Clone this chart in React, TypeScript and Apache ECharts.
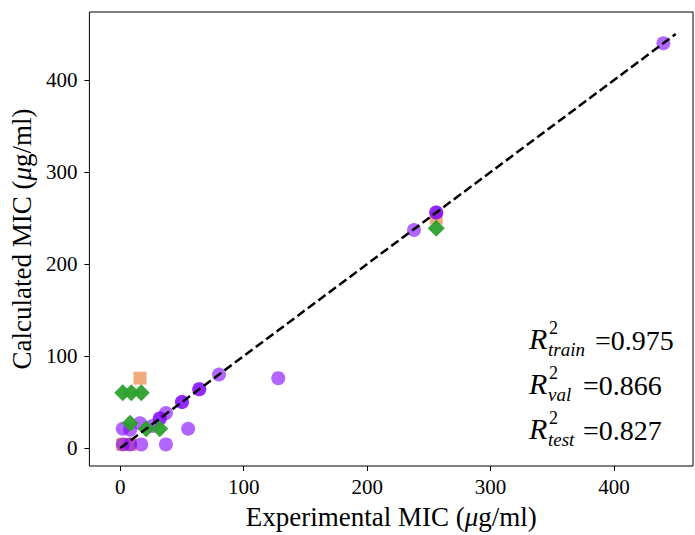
import React, { useEffect, useRef } from "react";
import * as echarts from "echarts";

// Experimental vs calculated MIC (µg/ml) for each data split
const trainPoints: number[][] = [
  [2, 4], [8, 4], [17, 4], [37, 4],
  [2, 21], [8, 20], [16, 27], [26, 24], [55, 21],
  [32, 32], [32, 32], [37, 38],
  [50, 50], [50, 50], [64, 64], [64, 64], [80, 80],
  [128, 76], [238, 237], [256, 256], [256, 256], [440, 440],
];
const valPoints: number[][] = [
  [2, 4], [8, 4], [16, 76], [256, 250],
];
const testPoints: number[][] = [
  [2, 60], [9, 60], [17, 60], [8, 27], [21, 21], [32, 21], [256, 239],
];
const identityLine: number[][] = [[0, 0], [450, 450]];
const tickValues: number[] = [0, 100, 200, 300, 400];

const r2Splits: string[] = ["train", "val", "test"];
const r2Values: string[] = ["0.975", "0.866", "0.827"];

const SERIF = '"Liberation Serif", "DejaVu Serif", serif';

function r2Block(): any[] {
  const rowY = [338, 383, 428];
  const subWidth: Record<string, number> = { train: 40, val: 28, test: 28 };
  const out: any[] = [];
  r2Splits.forEach((name, i) => {
    const y = rowY[i];
    out.push({
      type: "text",
      style: { text: "R", x: 529, y, font: `italic 30px ${SERIF}`, fill: "#000", verticalAlign: "middle" },
    });
    out.push({
      type: "text",
      style: { text: "2", x: 549, y: y - 10, font: `18px ${SERIF}`, fill: "#000", verticalAlign: "middle" },
    });
    out.push({
      type: "text",
      style: { text: name, x: 548, y: y + 11, font: `italic 19px ${SERIF}`, fill: "#000", verticalAlign: "middle" },
    });
    out.push({
      type: "text",
      style: {
        text: "=" + r2Values[i],
        x: 550 + subWidth[name] + 5,
        y: y + 2,
        font: `28px ${SERIF}`,
        fill: "#000",
        verticalAlign: "middle",
      },
    });
  });
  return out;
}

export default function App() {
  const ref = useRef<HTMLDivElement>(null);

  useEffect(() => {
    if (!ref.current) return;
    const chart = echarts.init(ref.current, undefined, { renderer: "svg" });
    const axisCommon = {
      type: "value" as const,
      splitLine: { show: false },
      axisLine: { show: false, onZero: false },
      axisTick: {
        show: true,
        customValues: tickValues,
        length: 5,
        inside: false,
        lineStyle: { color: "#000", width: 1 },
      },
      nameLocation: "middle" as const,
      nameTextStyle: {
        fontFamily: SERIF,
        fontSize: 27,
        color: "#000",
        rich: { i: { fontFamily: SERIF, fontSize: 27, fontStyle: "italic", color: "#000" } },
      },
    };
    chart.setOption({
      animation: false,
      backgroundColor: "#fff",
      grid: {
        left: 87,
        right: 2,
        top: 12,
        bottom: 66,
        show: true,
        borderColor: "#000",
        borderWidth: 1,
        backgroundColor: "transparent",
      },
      xAxis: {
        ...axisCommon,
        min: -25,
        max: 464,
        name: "Experimental MIC ({i|μ}g/ml)",
        nameGap: 37,
        axisLabel: {
          customValues: tickValues,
          fontFamily: SERIF,
          fontSize: 21,
          color: "#000",
          margin: 10,
        },
      },
      yAxis: {
        ...axisCommon,
        min: -19.5,
        max: 474,
        name: "Calculated MIC ({i|μ}g/ml)",
        nameGap: 46,
        axisLabel: {
          customValues: tickValues,
          fontFamily: SERIF,
          fontSize: 21,
          color: "#000",
          margin: 12,
        },
      },
      series: [
        {
          name: "val",
          type: "scatter",
          data: valPoints,
          symbol: "rect",
          symbolSize: 13,
          itemStyle: { color: "#f0955c", opacity: 0.8 },
          z: 2,
        },
        {
          name: "train",
          type: "scatter",
          data: trainPoints,
          symbol: "circle",
          symbolSize: 14,
          itemStyle: { color: "#7f00ff", opacity: 0.6 },
          z: 3,
        },
        {
          name: "test",
          type: "scatter",
          data: testPoints,
          symbol: "diamond",
          symbolSize: 17,
          itemStyle: { color: "#2ca02c", opacity: 0.95 },
          z: 4,
        },
        {
          name: "identity",
          type: "line",
          data: identityLine,
          showSymbol: false,
          symbol: "none",
          lineStyle: { color: "#000", width: 2.5, type: [9, 4] },
          z: 5,
        },
      ],
      graphic: r2Block(),
    });
    return () => chart.dispose();
  }, []);

  return (
    <div
      ref={ref}
      style={{ position: "fixed", left: 0, top: 0, width: 695, height: 535 }}
    />
  );
}
